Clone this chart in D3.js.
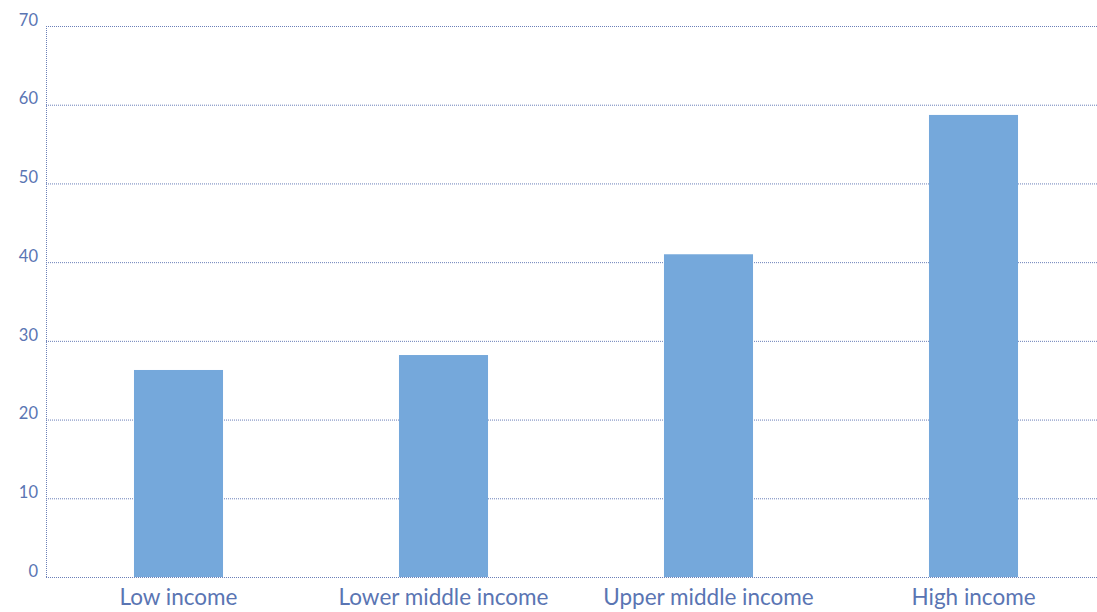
<!DOCTYPE html>
<html>
<head>
<meta charset="utf-8">
<script src="https://cdn.jsdelivr.net/npm/d3@7"></script>
<style>
  html, body { margin: 0; padding: 0; background: #fff; }
  svg { display: block; }
  .tick text { font-family: Lato, "Open Sans", sans-serif; }
</style>
</head>
<body>
<svg id="chart" width="1097" height="612"></svg>
<script>
const categories = ["Low income", "Lower middle income", "Upper middle income", "High income"];
const values = [26.3, 28.2, 41.0, 58.7];
const yTicks = [0, 10, 20, 30, 40, 50, 60, 70];

const W = 1097, H = 612;
const plotLeft = 46, plotTop = 26, plotBottom = 577;
const textColor = "#5a75b3";
const gridColor = "#6a7fb8";
const barColor = "#75a8db";

const svg = d3.select("#chart");

const x = d3.scaleBand()
  .domain(categories)
  .range([plotLeft, plotLeft + 4 * 265])
  .paddingInner(0.664)
  .paddingOuter(0.332);

const y = d3.scaleLinear().domain([0, 70]).range([plotBottom, plotTop]);

// horizontal gridlines
svg.append("g")
  .selectAll("line")
  .data(yTicks)
  .join("line")
  .attr("x1", plotLeft).attr("x2", W)
  .attr("y1", d => y(d) + 0.5).attr("y2", d => y(d) + 0.5)
  .attr("stroke", gridColor)
  .attr("stroke-width", 1)
  .attr("stroke-dasharray", "1,1");

// vertical axis line
svg.append("line")
  .attr("x1", plotLeft + 0.5).attr("x2", plotLeft + 0.5)
  .attr("y1", plotTop).attr("y2", plotBottom)
  .attr("stroke", gridColor)
  .attr("stroke-dasharray", "1,1");

// bars
svg.append("g")
  .selectAll("rect")
  .data(values)
  .join("rect")
  .attr("x", (d, i) => x(categories[i]))
  .attr("width", x.bandwidth())
  .attr("y", d => y(d))
  .attr("height", d => y(0) - y(d))
  .attr("fill", barColor);

// y tick labels
const yAxis = svg.append("g")
  .attr("transform", `translate(${plotLeft - 8},0)`)
  .call(d3.axisLeft(y).tickValues(yTicks).tickSize(0).tickPadding(0));
yAxis.select(".domain").remove();
yAxis.selectAll("text")
  .attr("fill", textColor)
  .attr("font-size", 16.5)
  .attr("font-weight", 400)
  .attr("dy", "-0.05em");

// category labels
const xAxis = svg.append("g")
  .attr("transform", `translate(0,${plotBottom})`)
  .call(d3.axisBottom(x).tickSize(0).tickPadding(12));
xAxis.select(".domain").remove();
xAxis.selectAll("text")
  .attr("fill", textColor)
  .attr("font-size", 22.5)
  .attr("font-weight", 400);
</script>
</body>
</html>
